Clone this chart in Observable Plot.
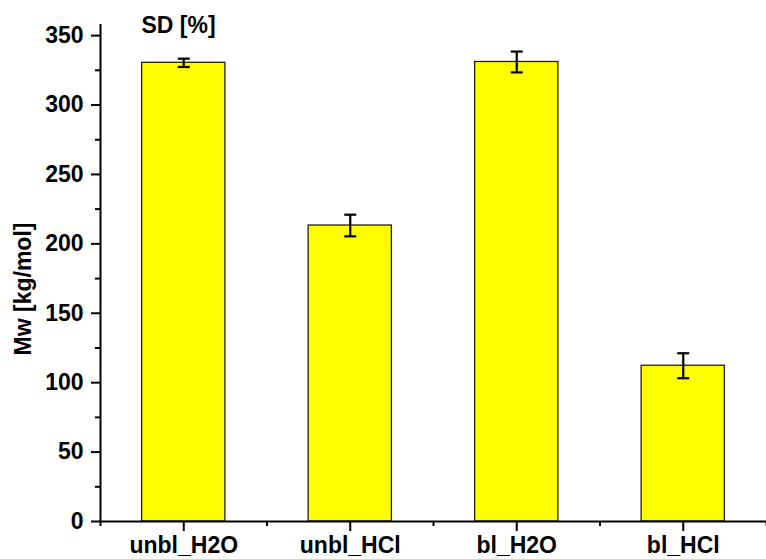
<!DOCTYPE html>
<html>
<head>
<meta charset="utf-8">
<script src="https://cdn.jsdelivr.net/npm/d3@7"></script>
<script src="https://cdn.jsdelivr.net/npm/@observablehq/plot@0.6"></script>
<style>
  html, body { margin: 0; padding: 0; background: #fff; }
  #chart svg { display: block; }
</style>
</head>
<body>
<div id="chart"></div>
<script>
const categories = ["unbl_H2O", "unbl_HCl", "bl_H2O", "bl_HCl"];
const mwValues = [330.4, 213.2, 331, 112.2];
const sdValues = [3, 7.8, 7.5, 9];
const yTicks = [0, 50, 100, 150, 200, 250, 300, 350];
const yMinorTicks = [25, 75, 125, 175, 225, 275, 325];
const xMinorTicks = [0, 1, 2, 3, 4];
const titleText = "SD [%]";
const yLabel = "Mw [kg/mol]";

const data = categories.map((c, i) => ({ c, i, mw: mwValues[i], sd: sdValues[i] }));

const capSymbol = {
  draw(context, size) {
    const r = Math.sqrt(size / Math.PI);
    context.moveTo(-r, 0);
    context.lineTo(r, 0);
  }
};

const font = "'Liberation Sans', Arial, sans-serif";
const fs = 23;

const chart = Plot.plot({
  width: 766,
  height: 559,
  marginLeft: 100,
  marginRight: 0,
  marginTop: 24,
  marginBottom: 38,
  style: { fontFamily: font, fontSize: fs + "px", fontWeight: "bold", color: "#000", background: "#fff", overflow: "visible" },
  x: { type: "linear", domain: [0, 4] },
  y: { domain: [0, 358] },
  marks: [
    Plot.rectY(data, {
      x1: d => d.i + 0.25, x2: d => d.i + 0.75, y: "mw",
      fill: "#ffff00", stroke: "#222200", strokeWidth: 1.3
    }),
    Plot.ruleX(data, {
      x: d => d.i + 0.5, y1: d => d.mw - d.sd, y2: d => d.mw + d.sd,
      stroke: "#000", strokeWidth: 2.2
    }),
    Plot.dot(data, { x: d => d.i + 0.5, y: d => d.mw + d.sd, symbol: capSymbol, r: 6, stroke: "#000", strokeWidth: 2.2, fill: "none" }),
    Plot.dot(data, { x: d => d.i + 0.5, y: d => d.mw - d.sd, symbol: capSymbol, r: 6, stroke: "#000", strokeWidth: 2.2, fill: "none" }),
    Plot.axisY({ ticks: yTicks, tickSize: 9, tickPadding: 8, strokeWidth: 2, fontSize: fs, fontWeight: "bold", label: null }),
    Plot.axisY({ ticks: yMinorTicks, tickSize: 5, strokeWidth: 2, tickFormat: () => "", label: null }),
    Plot.axisX({ ticks: data.map(d => d.i + 0.5), tickSize: 10, tickPadding: 5, strokeWidth: 2, fontSize: fs, fontWeight: "bold", tickFormat: v => categories[Math.floor(v)], label: null }),
    Plot.axisX({ ticks: xMinorTicks, tickSize: 5, strokeWidth: 2, tickFormat: () => "", label: null }),
    Plot.ruleX([0], { stroke: "#000", strokeWidth: 2 }),
    Plot.ruleY([0], { stroke: "#000", strokeWidth: 2 }),
    Plot.text([yLabel], { frameAnchor: "left", rotate: -90, dx: -77, dy: 16, textAnchor: "middle", lineAnchor: "middle", fontSize: fs, fontWeight: "bold", fill: "#000" }),
    Plot.text([titleText], { frameAnchor: "top-left", dx: 78, dy: -8, textAnchor: "middle", lineAnchor: "top", fontSize: fs, fontWeight: "bold", fill: "#000" })
  ]
});

document.getElementById("chart").appendChild(chart);
</script>
</body>
</html>
